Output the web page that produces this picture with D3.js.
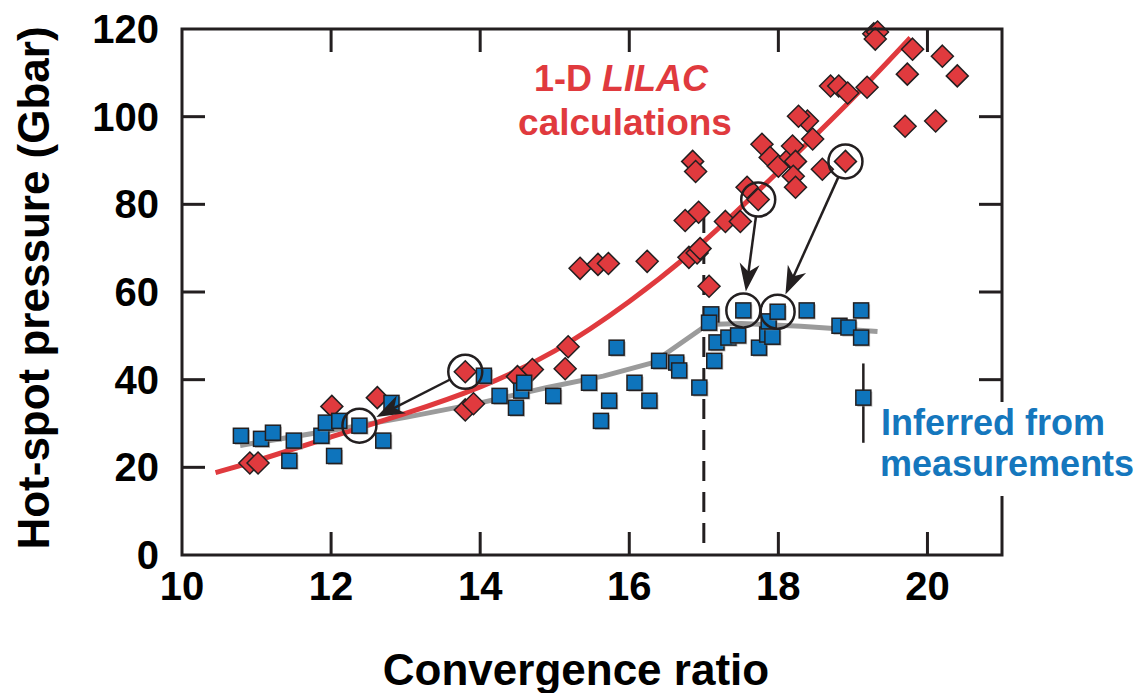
<!DOCTYPE html>
<html lang="en">
<head>
<meta charset="utf-8">
<title>Hot-spot pressure vs convergence ratio</title>
<script src="https://d3js.org/d3.v7.min.js"></script>
<style>
  body { margin: 0; background: #fff; }
  svg text { font-family: "Liberation Sans", Arial, Helvetica, sans-serif; font-weight: bold; }
</style>
</head>
<body>
<div id="chart"></div>
<script>
// 1-D LILAC calculations (red diamonds)
var lilacCR = [10.91, 11.02, 12.01, 12.62, 13.80, 13.80, 13.91, 14.50, 14.70, 15.14, 15.18, 15.34, 15.58, 15.72,
  16.24, 16.80, 16.91, 16.95, 17.07, 16.85, 16.89, 16.93, 16.75, 17.29, 17.49, 17.58, 17.73, 17.78, 17.89, 18.00,
  18.16, 18.19, 18.23, 18.20, 18.23, 18.59, 18.90, 18.46, 18.39, 18.27, 18.70, 18.81, 18.93, 19.19, 19.28, 19.33,
  19.30, 19.80, 19.73, 20.20, 20.40, 19.70, 20.11];
var lilacP = [21.0, 21.0, 33.9, 35.9, 41.8, 33.1, 34.5, 40.7, 42.3, 42.5, 47.5, 65.4, 66.3, 66.5,
  67.0, 67.9, 68.9, 69.9, 61.3, 89.8, 87.5, 78.2, 76.3, 76.1, 76.1, 83.9, 81.1, 93.7, 90.7, 88.7,
  90.7, 93.3, 89.8, 86.4, 83.9, 88.0, 89.8, 94.9, 99.0, 100.1, 107.0, 107.0, 105.4, 106.7, 118.9, 119.3,
  117.7, 115.4, 109.7, 113.8, 109.3, 97.8, 99.0];

// inferred from measurements (blue squares)
var measCR = [10.79, 11.06, 11.22, 11.50, 11.44, 11.87, 11.93, 12.11, 12.38, 12.70, 12.04, 12.81, 14.05, 14.26,
  14.55, 14.59, 14.48, 14.98, 15.46, 15.73, 15.62, 15.83, 16.07, 16.27, 16.40, 16.63, 16.67, 16.94, 17.10, 17.07,
  17.17, 17.14, 17.33, 17.46, 17.53, 17.74, 17.85, 17.92, 17.87, 17.99, 18.38, 18.82, 18.94, 19.11, 19.11, 19.14];
var measP = [27.2, 26.5, 27.9, 26.1, 21.5, 27.2, 30.2, 30.6, 29.5, 26.1, 22.6, 34.7, 40.9, 36.3,
  37.5, 39.3, 33.6, 36.3, 39.3, 35.2, 30.6, 47.3, 39.3, 35.2, 44.3, 43.9, 42.1, 38.2, 54.9, 53.0,
  48.5, 44.3, 49.6, 50.1, 55.8, 47.3, 50.3, 49.8, 53.3, 55.5, 55.8, 52.3, 51.9, 55.8, 49.6, 35.9];

// error bar on the low point at CR ~19.1
var errCR = [19.14];
var errLow = [25.6];
var errHigh = [43.7];

// trend curves
var lilacFitCR = [10.45, 11, 12, 13, 14, 15, 16, 17, 18, 19, 19.77];
var lilacFitP = [18.8, 21.4, 27.0, 32.2, 38.0, 46.0, 57.5, 71.0, 87.5, 104.0, 118.0];
var measFitCR = [10.78, 12, 13, 14, 14.9, 15.65, 16.32, 17.05, 17.5, 18.3, 19.33];
var measFitP = [25.0, 28.4, 31.4, 34.7, 38.2, 40.8, 43.9, 52.6, 52.8, 52.2, 51.0];

// circled shots and arrows (calculation -> measurement)
var circledCR = [13.80, 12.38, 17.73, 18.90, 17.53, 17.99];
var circledP = [41.8, 29.5, 81.1, 89.8, 55.8, 55.5];
var arrowFromCR = [13.80, 17.73, 18.90];
var arrowFromP = [41.8, 81.1, 89.8];
var arrowToCR = [12.38, 17.53, 17.99];
var arrowToP = [29.5, 55.8, 55.5];

var xTicks = [10, 12, 14, 16, 18, 20];
var yTicks = [0, 20, 40, 60, 80, 100, 120];
var dashCR = 17;
var dashTop = 78;

var w = 1145, h = 693;
var x0 = 182, x1 = 1002, y0 = 555, y1 = 29;
var red = "#e03a3e", blue = "#0e74bc", ink = "#231f20";

var svg = d3.select("#chart").append("svg").attr("width", w).attr("height", h);

var xScale = d3.scaleLinear().domain([10, 21]).range([x0, x1]);
var yScale = d3.scaleLinear().domain([0, 120]).range([y0, y1]);

var diamonds = lilacCR.map(function(d, i) { return [d, lilacP[i]]; });
var squares = measCR.map(function(d, i) { return [d, measP[i]]; });

// trend lines
var line = d3.line().x(function(d) { return xScale(d[0]); }).y(function(d) { return yScale(d[1]); });
svg.append("path").datum(measFitCR.map(function(d, i) { return [d, measFitP[i]]; }))
  .attr("d", line.curve(d3.curveLinear)).attr("fill", "none").attr("stroke", "#9b9b9b")
  .attr("stroke-width", 5).attr("stroke-linejoin", "round");
svg.append("path").datum(lilacFitCR.map(function(d, i) { return [d, lilacFitP[i]]; }))
  .attr("d", line.curve(d3.curveBasis)).attr("fill", "none").attr("stroke", red).attr("stroke-width", 5);

// dashed line at CR = 17
svg.append("line").attr("x1", xScale(dashCR)).attr("x2", xScale(dashCR))
  .attr("y1", yScale(dashTop)).attr("y2", y0)
  .attr("stroke", ink).attr("stroke-width", 3).attr("stroke-dasharray", "20,11");

// diamonds
svg.append("g").selectAll("path").data(diamonds).enter().append("path")
  .attr("transform", function(d) { return "translate(" + xScale(d[0]) + "," + yScale(d[1]) + ")"; })
  .attr("d", "M0,-11L11,0L0,11L-11,0Z")
  .attr("fill", red).attr("stroke", ink).attr("stroke-width", 1.5);

// error bar
svg.append("g").selectAll("line").data(errCR).enter().append("line")
  .attr("x1", function(d) { return xScale(d); }).attr("x2", function(d) { return xScale(d); })
  .attr("y1", function(d, i) { return yScale(errLow[i]); }).attr("y2", function(d, i) { return yScale(errHigh[i]); })
  .attr("stroke", ink).attr("stroke-width", 2.5);

// squares with a soft shadow
var sq = svg.append("g").selectAll("g").data(squares).enter().append("g")
  .attr("transform", function(d) { return "translate(" + xScale(d[0]) + "," + yScale(d[1]) + ")"; });
sq.append("rect").attr("x", -6).attr("y", -6).attr("width", 15).attr("height", 15).attr("fill", "#8a8a8a").attr("opacity", 0.6);
sq.append("rect").attr("x", -7.5).attr("y", -7.5).attr("width", 15).attr("height", 15)
  .attr("fill", blue).attr("stroke", ink).attr("stroke-width", 1.5);

// circles
svg.append("g").selectAll("circle").data(circledCR).enter().append("circle")
  .attr("cx", function(d) { return xScale(d); }).attr("cy", function(d, i) { return yScale(circledP[i]); })
  .attr("r", 17).attr("fill", "none").attr("stroke", ink).attr("stroke-width", 2.5);

// arrows
var arrows = arrowFromCR.map(function(d, i) {
  var ax = xScale(d), ay = yScale(arrowFromP[i]);
  var bx = xScale(arrowToCR[i]), by = yScale(arrowToP[i]);
  var len = Math.hypot(bx - ax, by - ay), ux = (bx - ax) / len, uy = (by - ay) / len;
  return { sx: ax + ux * 17, sy: ay + uy * 17, tx: bx - ux * 19, ty: by - uy * 19, ux: ux, uy: uy };
});
var ag = svg.append("g").selectAll("g").data(arrows).enter().append("g");
ag.append("line")
  .attr("x1", function(d) { return d.sx; }).attr("y1", function(d) { return d.sy; })
  .attr("x2", function(d) { return d.tx - d.ux * 18; }).attr("y2", function(d) { return d.ty - d.uy * 18; })
  .attr("stroke", ink).attr("stroke-width", 2.5);
ag.append("path")
  .attr("transform", function(d) {
    return "translate(" + d.tx + "," + d.ty + ") rotate(" + (Math.atan2(d.uy, d.ux) * 180 / Math.PI) + ")";
  })
  .attr("d", "M0,0L-28,-10L-20,0L-28,10Z").attr("fill", ink);

// frame and ticks
var axes = svg.append("g").attr("stroke", ink).attr("stroke-width", 3).attr("fill", "none");
axes.append("rect").attr("x", x0).attr("y", y1).attr("width", x1 - x0).attr("height", y0 - y1);
var inner = xTicks.filter(function(d) { return d > 10; });
axes.selectAll("line.xb").data(inner).enter().append("line").attr("class", "xb")
  .attr("x1", xScale).attr("x2", xScale).attr("y1", y0).attr("y2", y0 - 23);
axes.selectAll("line.xt").data(inner).enter().append("line").attr("class", "xt")
  .attr("x1", xScale).attr("x2", xScale).attr("y1", y1).attr("y2", y1 + 23);
var innerY = yTicks.filter(function(d) { return d > 0 && d < 120; });
axes.selectAll("line.yl").data(innerY).enter().append("line").attr("class", "yl")
  .attr("y1", yScale).attr("y2", yScale).attr("x1", x0).attr("x2", x0 + 23);
axes.selectAll("line.yr").data(innerY).enter().append("line").attr("class", "yr")
  .attr("y1", yScale).attr("y2", yScale).attr("x1", x1).attr("x2", x1 - 23);

// tick labels
svg.append("g").selectAll("text").data(xTicks).enter().append("text")
  .attr("x", xScale).attr("y", 600).attr("text-anchor", "middle")
  .attr("font-size", 40).attr("fill", "#000").text(function(d) { return d; });
svg.append("g").selectAll("text").data(yTicks).enter().append("text")
  .attr("x", 159).attr("y", function(d) { return yScale(d) + 14; }).attr("text-anchor", "end")
  .attr("font-size", 40).attr("fill", "#000").text(function(d) { return d; });

// axis titles
svg.append("text").attr("x", 576).attr("y", 685).attr("text-anchor", "middle")
  .attr("font-size", 44).attr("fill", "#000").text("Convergence ratio");
svg.append("text").attr("transform", "translate(49,288) rotate(-90)").attr("text-anchor", "middle")
  .attr("font-size", 44).attr("fill", "#000").text("Hot-spot pressure (Gbar)");

// series labels
var rl = svg.append("text").attr("x", 621).attr("y", 91).attr("text-anchor", "middle")
  .attr("font-size", 36).attr("fill", red);
rl.append("tspan").text("1-D ");
rl.append("tspan").attr("font-style", "italic").text("LILAC");
svg.append("text").attr("x", 625).attr("y", 135).attr("text-anchor", "middle")
  .attr("font-size", 37).attr("fill", red).text("calculations");

svg.append("rect").attr("x", 876).attr("y", 402).attr("width", 269).attr("height", 94).attr("fill", "#fff");
svg.append("text").attr("x", 881).attr("y", 435).attr("font-size", 36).attr("fill", "#1577bd").text("Inferred from");
svg.append("text").attr("x", 880).attr("y", 476).attr("font-size", 36).attr("fill", "#1577bd").text("measurements");
</script>
</body>
</html>
